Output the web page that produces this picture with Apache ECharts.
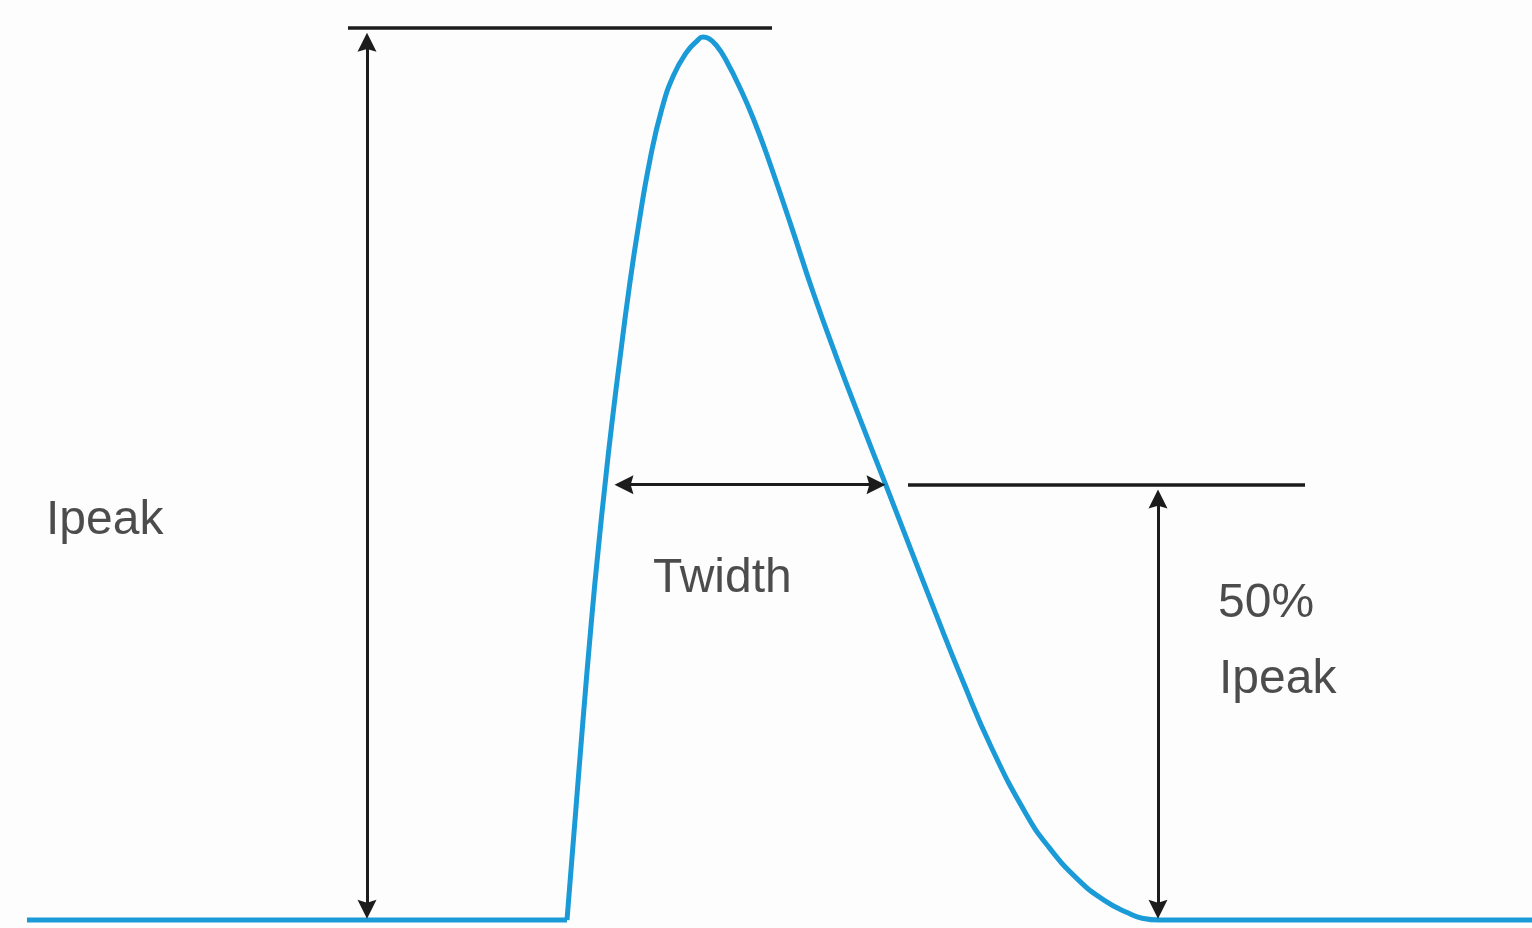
<!DOCTYPE html>
<html>
<head>
<meta charset="utf-8">
<script src="https://cdn.jsdelivr.net/npm/echarts@6/dist/echarts.min.js"></script>
<style>
html,body{margin:0;padding:0;background:#fdfdfd;}
#chart{width:1532px;height:928px;}
</style>
</head>
<body>
<div id="chart"></div>
<script>
// Pulse waveform (time in arbitrary units, current relative to Ipeak)
const pulseTime    = [54.00, 54.80, 55.60, 56.45, 57.12, 57.80, 58.47, 59.30, 60.16, 61.16, 62.33, 63.50, 64.66, 65.97, 66.96, 67.60, 68.20, 68.90, 69.80, 71.50, 72.89, 74.11, 76.39, 78.60, 80.98, 83.53, 85.87, 88.29, 90.86, 93.54, 96.42, 99.85, 102.16, 105.13, 107.73, 110.07, 111.50, 113.30];
const pulseCurrent = [0.000, 0.112, 0.224, 0.336, 0.415, 0.488, 0.555, 0.630, 0.704, 0.779, 0.854, 0.910, 0.947, 0.973, 0.985, 0.990, 0.988, 0.981, 0.966, 0.928, 0.891, 0.854, 0.779, 0.704, 0.630, 0.555, 0.488, 0.418, 0.344, 0.269, 0.194, 0.120, 0.082, 0.045, 0.022, 0.008, 0.002, 0.000];
const baselineLeftTime  = [0, 54.0];
const baselineRightTime = [113.3, 150.5];

// Annotation levels / positions
const ipeakLevel = 1.0;
const halfLevel = 0.488;
const ipeakRefLine = [32.1, 74.5];
const ipeakArrowTime = 34.0;
const ipeakArrowSpan = [0.012, 0.984];
const widthArrow = [59.7, 84.9];
const halfRefLine = [88.1, 127.8];
const halfArrowTime = 113.1;
const halfArrowSpan = [0.012, 0.472];

const labelTexts = ['Ipeak', 'Twidth', '50%', 'Ipeak'];
const labelTime = [1.9, 62.6, 119.1, 119.2];
const labelLevel = [0.448, 0.382, 0.354, 0.269];

const blue = '#1a9ad7';
const ink = '#1c1c1c';

const chart = echarts.init(document.getElementById('chart'), null, {renderer: 'canvas'});

const arrowHead = 'path://M5,0 L10,20 L5,17 L0,20 Z';
const arrowEnd = {symbol: arrowHead, symbolSize: 19};
const noEnd = {symbol: 'none'};

chart.setOption({
  backgroundColor: '#fdfdfd',
  animation: false,
  grid: {left: 27, right: 0, top: 28, bottom: 8},
  xAxis: {type: 'value', min: 0, max: 150.5, show: false},
  yAxis: {type: 'value', min: 0, max: 1, show: false},
  series: [
    {
      name: 'baseline-left', type: 'line', clip: false, showSymbol: false, symbol: 'none',
      lineStyle: {color: blue, width: 5},
      data: baselineLeftTime.map(t => [t, 0]),
      markLine: {
        silent: true, animation: false,
        lineStyle: {type: 'solid', color: ink, width: 3.5},
        label: {show: false},
        data: [
          [Object.assign({coord: [ipeakRefLine[0], ipeakLevel]}, noEnd), Object.assign({coord: [ipeakRefLine[1], ipeakLevel]}, noEnd)],
          [Object.assign({coord: [halfRefLine[0], halfLevel]}, noEnd), Object.assign({coord: [halfRefLine[1], halfLevel]}, noEnd)],
          [Object.assign({coord: [ipeakArrowTime, ipeakArrowSpan[0]], lineStyle: {width: 3}}, arrowEnd), Object.assign({coord: [ipeakArrowTime, ipeakArrowSpan[1]]}, arrowEnd)],
          [Object.assign({coord: [widthArrow[0], halfLevel], lineStyle: {width: 3}}, arrowEnd), Object.assign({coord: [widthArrow[1], halfLevel]}, arrowEnd)],
          [Object.assign({coord: [halfArrowTime, halfArrowSpan[0]], lineStyle: {width: 3}}, arrowEnd), Object.assign({coord: [halfArrowTime, halfArrowSpan[1]]}, arrowEnd)]
        ]
      }
    },
    {
      name: 'pulse', type: 'line', clip: false, showSymbol: false, symbol: 'none',
      smooth: 0.5,
      lineStyle: {color: blue, width: 5},
      data: pulseTime.map((t, i) => [t, pulseCurrent[i]])
    },
    {
      name: 'baseline-right', type: 'line', clip: false, showSymbol: false, symbol: 'none',
      lineStyle: {color: blue, width: 5},
      data: baselineRightTime.map(t => [t, 0])
    },
    {
      name: 'labels', type: 'scatter', clip: false, symbolSize: 0, silent: true,
      data: labelTexts.map((s, i) => ({name: s, value: [labelTime[i], labelLevel[i]]})),
      label: {
        show: true, position: 'inside', formatter: p => p.name,
        align: 'left', verticalAlign: 'middle',
        fontFamily: 'Liberation Sans', fontSize: 48, color: '#1f1f1f'
      }
    }
  ]
});
</script>
</body>
</html>
